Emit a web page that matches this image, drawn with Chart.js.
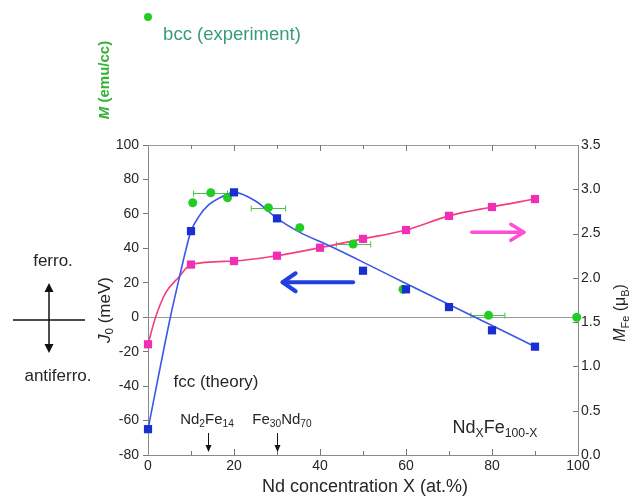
<!DOCTYPE html>
<html><head><meta charset="utf-8">
<script src="https://cdn.jsdelivr.net/npm/chart.js@4/dist/chart.umd.min.js"></script>
<style>html,body{margin:0;padding:0;background:#fff;}#wrap{width:633px;height:498px;position:relative;}</style>
</head><body><div id="wrap"><canvas id="c" width="633" height="498"></canvas></div>
<script>
// ---- data ----
const xTicks = [0,20,40,60,80,100];
// fcc theory, exchange J0 (meV)
const theoryX = [0,10,20,30,50,60,70,80,90];
const theoryJ0 = [-65,50,72.5,57.4,27,16.2,5.9,-7.6,-17.1];
// smooth guide curve for J0
const j0CurveX = [0,5.2,7.2,8.7,10,11.8,14.1,17.2,20,25,30,35,42.3,50,60,70,80,90];
const j0CurveY = [-65,0,22,38,50,58.4,65.2,70,72.5,67.5,57.4,49.7,41.3,32,19.6,7.4,-4.8,-17.1];
// fcc theory, Fe moment (muB)
const momentX = [0,10,20,30,40,50,60,70,80,90];
const momentFe = [1.25,2.15,2.19,2.25,2.34,2.44,2.54,2.70,2.80,2.89];
// smooth guide curve for Fe moment
const momCurveX = [0,1.8,4.1,7.2,10,20,30,40,50,60,70,80,90];
const momCurveY = [1.25,1.56,1.83,2.01,2.15,2.19,2.25,2.34,2.44,2.54,2.70,2.80,2.89];
// bcc experiment, M (emu/cc) plotted on the left scale
const bccX = [10.4,14.6,18.5,28.0,35.3,47.7,59.3,79.2,99.7];
const bccM = [66.5,72.3,69.4,63.6,52,42.5,16.2,1.1,0];
const bccXErrLo = [null,10.6,null,24,null,43.8,null,75.1,null];
const bccXErrHi = [null,18.5,null,32,null,51.8,null,83,null];

const FONT = '"Liberation Sans", Arial, Helvetica, sans-serif';
const TXT = '#262626';

function pts(xs, ys){ return xs.map((v,i)=>({x:v,y:ys[i]})); }

// style flags: I = italic, B = bold, S = subscript
function drawRich(ctx, parts, x, y, size, color, rot){
  ctx.save();
  ctx.translate(x,y);
  if (rot) ctx.rotate(rot);
  ctx.fillStyle = color;
  ctx.textBaseline = 'middle';
  ctx.textAlign = 'left';
  const fontFor = (st)=>{
    const sz = st.includes('S') ? size*0.68 : size;
    return (st.includes('I')?'italic ':'') + (st.includes('B')?'bold ':'') + sz + 'px ' + FONT;
  };
  let w = 0;
  parts.forEach(p=>{ ctx.font = fontFor(p[1]||''); w += ctx.measureText(p[0]).width; });
  let cx = -w/2;
  parts.forEach(p=>{
    const st = p[1]||'';
    ctx.font = fontFor(st);
    const dy = st.includes('S') ? size*0.3 : 0;
    ctx.fillText(p[0], cx, dy);
    cx += ctx.measureText(p[0]).width;
  });
  ctx.restore();
}
function seg(ctx,x1,y1,x2,y2){ ctx.beginPath(); ctx.moveTo(x1,y1); ctx.lineTo(x2,y2); ctx.stroke(); }
function triHead(ctx, x, y, dir, len, half){
  ctx.beginPath();
  if (dir==='down'){ ctx.moveTo(x,y); ctx.lineTo(x-half,y-len); ctx.lineTo(x+half,y-len); }
  else { ctx.moveTo(x,y); ctx.lineTo(x-half,y+len); ctx.lineTo(x+half,y+len); }
  ctx.closePath(); ctx.fill();
}
function chevronArrow(ctx, x1, y, x2, color, lw, hl, hh){
  ctx.save();
  ctx.strokeStyle = color; ctx.lineWidth = lw; ctx.lineCap='round'; ctx.lineJoin='round';
  seg(ctx, x1, y, x2, y);
  const d = x2 > x1 ? -1 : 1;
  ctx.beginPath(); ctx.moveTo(x2 + d*hl, y-hh); ctx.lineTo(x2, y); ctx.lineTo(x2 + d*hl, y+hh); ctx.stroke();
  ctx.restore();
}

const deco = {
  id:'deco',
  beforeDatasetsDraw(chart){
    const {ctx, chartArea:a, scales:{x,y,y1}} = chart;
    ctx.save();
    ctx.strokeStyle = '#9a9a9a'; ctx.lineWidth = 1;
    const y0 = Math.round(y.getPixelForValue(0))+0.5;
    seg(ctx, a.left, y0, a.right, y0);
    seg(ctx, a.left, a.top+0.5, a.right, a.top+0.5);
    ctx.strokeStyle = '#777';
    for (let v=10; v<100; v+=10){
      const px = Math.round(x.getPixelForValue(v))+0.5;
      const L = v%20===0 ? 6 : 4;
      seg(ctx, px, a.top, px, a.top+L);
      seg(ctx, px, a.bottom, px, a.bottom-L);
    }
    for (let v=0.5; v<3.5; v+=0.5){
      const py = Math.round(y1.getPixelForValue(v))+0.5;
      seg(ctx, a.right-5, py, a.right, py);
    }
    // error bars
    ctx.strokeStyle = '#4cc04c'; ctx.lineWidth = 1;
    bccX.forEach((v,i)=>{
      if (bccXErrLo[i]==null) return;
      const py = Math.round(y.getPixelForValue(bccM[i]))+0.5;
      const l = x.getPixelForValue(bccXErrLo[i]), r = x.getPixelForValue(bccXErrHi[i]);
      seg(ctx, l, py, r, py);
      seg(ctx, l, py-3, l, py+3);
      seg(ctx, r, py-3, r, py+3);
    });
    ctx.restore();
  },
  afterDraw(chart){
    const {ctx, chartArea:a, scales:{x,y}} = chart;
    ctx.save();
    // legend for bcc
    ctx.fillStyle = '#22cc22';
    ctx.beginPath(); ctx.arc(148,17,4,0,Math.PI*2); ctx.fill();
    drawRich(ctx, [['bcc (experiment)','']], 232, 35, 18.5, '#3a9c76', 0);
    drawRich(ctx, [['M','IB'],[' (emu/cc)','B']], 105, 80, 15, '#36b036', -Math.PI/2);
    // axis titles
    drawRich(ctx, [['J','I'],['0','S'],[' (meV)','']], 105, 310, 17, TXT, -Math.PI/2);
    drawRich(ctx, [['M','I'],['Fe','S'],[' (\u03bc','' ],['B','S'],[')','']], 621, 313, 16, TXT, -Math.PI/2);
    drawRich(ctx, [['Nd concentration X (at.%)','']], 365, 487, 18, TXT, 0);
    // ferro / antiferro
    drawRich(ctx, [['ferro.','']], 53, 261, 17, TXT, 0);
    drawRich(ctx, [['antiferro.','']], 58, 376, 17, TXT, 0);
    ctx.strokeStyle = '#111'; ctx.fillStyle = '#111'; ctx.lineWidth = 1.5;
    seg(ctx, 13, 320, 85, 320);
    seg(ctx, 49, 289, 49, 347);
    triHead(ctx, 49, 283, 'up', 9, 4.5);
    triHead(ctx, 49, 353, 'down', 9, 4.5);
    // labels in plot
    drawRich(ctx, [['fcc (theory)','']], 216, 382, 17, TXT, 0);
    drawRich(ctx, [['Nd','' ],['2','S'],['Fe',''],['14','S']], 207, 420, 15, TXT, 0);
    drawRich(ctx, [['Fe','' ],['30','S'],['Nd',''],['70','S']], 282, 420, 15, TXT, 0);
    drawRich(ctx, [['Nd','' ],['X','S'],['Fe',''],['100-X','S']], 495, 428, 18, TXT, 0);
    ctx.lineWidth = 1;
    [14,30].forEach(v=>{
      const px = Math.round(x.getPixelForValue(v))+0.5;
      seg(ctx, px, 433, px, 446);
      triHead(ctx, px, 452, 'down', 7, 3);
    });
    // direction arrows
    chevronArrow(ctx, x.getPixelForValue(47.7), y.getPixelForValue(20.3), x.getPixelForValue(31.3), '#1f3fe0', 4, 13, 9);
    chevronArrow(ctx, x.getPixelForValue(75.3), y.getPixelForValue(49.3), x.getPixelForValue(87.4), '#ff4fd8', 3.5, 13, 8);
    ctx.restore();
  }
};

new Chart(document.getElementById('c'), {
  type:'scatter',
  data:{ datasets:[
    { label:'J0 theory', data:pts(theoryX, theoryJ0), yAxisID:'y', showLine:false,
      pointStyle:'rect', pointRadius:5.8, pointBackgroundColor:'#1a2fd0', pointBorderColor:'#1a2fd0', pointBorderWidth:0, order:0, clip:false },
    { label:'M_Fe theory', data:pts(momentX, momentFe), yAxisID:'y1', showLine:false,
      pointStyle:'rect', pointRadius:5.8, pointBackgroundColor:'#f02fb4', pointBorderColor:'#f02fb4', pointBorderWidth:0, order:0, clip:false },
    { label:'bcc', data:pts(bccX, bccM), yAxisID:'y', showLine:false,
      pointStyle:'circle', pointRadius:4.5, pointBackgroundColor:'#22cc22', pointBorderColor:'#22cc22', pointBorderWidth:0, order:1, clip:false },
    { label:'J0 curve', data:pts(j0CurveX, j0CurveY), yAxisID:'y', showLine:true, cubicInterpolationMode:'monotone',
      borderColor:'#3a58e4', borderWidth:1.6, pointRadius:0, order:2 },
    { label:'M curve', data:pts(momCurveX, momCurveY), yAxisID:'y1', showLine:true, cubicInterpolationMode:'monotone',
      borderColor:'#f23f7e', borderWidth:1.6, pointRadius:0, order:2 }
  ]},
  options:{
    responsive:false, animation:false, events:[],
    layout:{ padding:{ top:145, left:0, right:0, bottom:0 } },
    plugins:{ legend:{display:false}, tooltip:{enabled:false}, title:{display:false} },
    scales:{
      x:{ type:'linear', min:0, max:100, afterBuildTicks:s=>{ s.ticks = xTicks.map(v=>({value:v})); },
          afterFit:s=>{ s.height = 43; },
          ticks:{ font:{family:FONT,size:14}, color:TXT, padding:3, maxRotation:0 },
          grid:{ display:true, drawOnChartArea:false, drawTicks:false, color:'#888' },
          border:{ display:true, color:'#8a8a8a', width:1 } },
      y:{ type:'linear', position:'left', min:-80, max:100,
          afterFit:s=>{ s.width = 148; },
          ticks:{ stepSize:20, font:{family:FONT,size:14}, color:TXT, padding:4 },
          grid:{ display:true, drawOnChartArea:false, drawTicks:true, tickLength:5, color:'#777' },
          border:{ display:true, color:'#8a8a8a', width:1 } },
      y1:{ type:'linear', position:'right', min:0, max:3.5,
          afterFit:s=>{ s.width = 55; },
          ticks:{ stepSize:0.5, font:{family:FONT,size:14}, color:TXT, padding:3, callback:v=>v.toFixed(1) },
          grid:{ display:true, drawOnChartArea:false, drawTicks:false, color:'#888' },
          border:{ display:true, color:'#8a8a8a', width:1 } }
    }
  },
  plugins:[deco]
});
</script>
</body></html>
